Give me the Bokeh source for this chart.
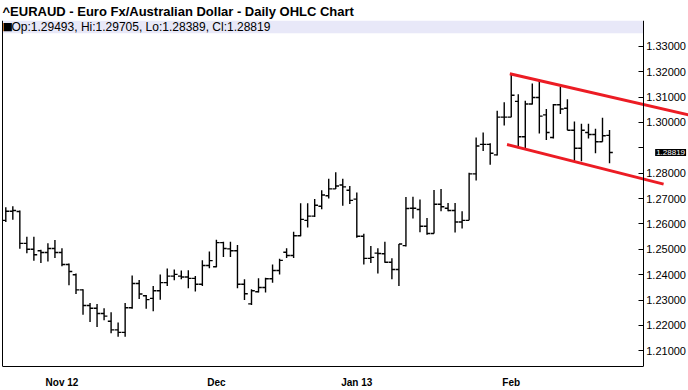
from bokeh.plotting import figure
from bokeh.models import (ColumnDataSource, FixedTicker, LinearAxis, Range1d,
                          BoxAnnotation, Label, Span, PrintfTickFormatter)
from bokeh.transform import dodge
from bokeh.embed import file_html
from bokeh.resources import INLINE

# ---- data (daily OHLC, EUR/AUD, Oct 22 2012 .. Feb 21 2013, trading days) ----
open_ = [1.26142, 1.26502, 1.26491, 1.25236, 1.25003, 1.24941, 1.24875, 1.25030, 1.24875, 1.24399,
         1.23996, 1.23403, 1.22783, 1.22679, 1.22473, 1.22163, 1.21826, 1.21725, 1.22694, 1.23655,
         1.23170, 1.23066, 1.23364, 1.23686, 1.23945, 1.23945, 1.23907, 1.23856, 1.23624, 1.24360,
         1.24313, 1.25263, 1.25018, 1.24941, 1.23624, 1.22849, 1.23325, 1.23492, 1.23841, 1.24166,
         1.24887, 1.24759, 1.25534, 1.26142, 1.26309, 1.26696, 1.27111, 1.27382, 1.27537, 1.27328,
         1.26979, 1.25514, 1.24643, 1.24848, 1.24825, 1.24488, 1.24205, 1.25146, 1.26619, 1.26568,
         1.25910, 1.25623, 1.26774, 1.26619, 1.26530, 1.26076, 1.26142, 1.27975, 1.29137, 1.29137,
         1.28723, 1.30210, 1.30210, 1.30830, 1.29436, 1.30726, 1.30985, 1.30300, 1.29408, 1.30699,
         1.30559, 1.29691, 1.28982, 1.29602, 1.29525, 1.29242, 1.29493]
high = [1.26657, 1.26696, 1.26530, 1.25495, 1.25495, 1.24980, 1.25236, 1.25367, 1.25042, 1.24437,
        1.24050, 1.23430, 1.22888, 1.22849, 1.22679, 1.22523, 1.22113, 1.22888, 1.23972, 1.23790,
        1.23198, 1.23558, 1.24011, 1.24244, 1.24205, 1.24166, 1.24178, 1.23945, 1.24565, 1.24914,
        1.25379, 1.25301, 1.25301, 1.25174, 1.23817, 1.23422, 1.23856, 1.23879, 1.24399, 1.24631,
        1.25042, 1.25689, 1.26812, 1.26812, 1.26979, 1.27328, 1.27781, 1.28041, 1.27781, 1.27498,
        1.27239, 1.25611, 1.25135, 1.25042, 1.25301, 1.24643, 1.25212, 1.27064, 1.27072, 1.26967,
        1.26231, 1.27336, 1.27374, 1.26824, 1.26824, 1.26502, 1.28014, 1.29408, 1.29602, 1.29176,
        1.30466, 1.30792, 1.31915, 1.31113, 1.30854, 1.31539, 1.31694, 1.30532, 1.30726, 1.31411,
        1.30919, 1.30040, 1.29951, 1.29951, 1.29757, 1.30183, 1.29705]
low = [1.26076, 1.26165, 1.25018, 1.24848, 1.24554, 1.24461, 1.24515, 1.24654, 1.24333, 1.23585,
       1.23236, 1.22423, 1.22136, 1.21942, 1.22202, 1.21687, 1.21555, 1.21555, 1.22655, 1.23043,
       1.22655, 1.22562, 1.23015, 1.23558, 1.23779, 1.23817, 1.23469, 1.23337, 1.23558, 1.24255,
       1.24294, 1.24693, 1.24693, 1.23461, 1.23004, 1.22802, 1.23298, 1.23298, 1.23686, 1.24011,
       1.24654, 1.24654, 1.25514, 1.25855, 1.26270, 1.26580, 1.27006, 1.27374, 1.26716, 1.26785,
       1.25456, 1.24399, 1.24461, 1.24050, 1.24468, 1.23817, 1.23558, 1.25108, 1.26212, 1.25669,
       1.25573, 1.25623, 1.26502, 1.26502, 1.25662, 1.25817, 1.26142, 1.27715, 1.28878, 1.28335,
       1.28699, 1.29885, 1.30210, 1.28982, 1.28982, 1.30706, 1.29563, 1.29304, 1.29370, 1.30338,
       1.29691, 1.28467, 1.28467, 1.29370, 1.28788, 1.29242, 1.28389]
close = [1.26502, 1.26530, 1.25236, 1.25003, 1.24786, 1.24875, 1.25030, 1.24875, 1.24399, 1.24127,
         1.23403, 1.22783, 1.22679, 1.22473, 1.22368, 1.21826, 1.21725, 1.22694, 1.23655, 1.23236,
         1.23015, 1.23364, 1.23686, 1.23945, 1.24011, 1.23907, 1.23856, 1.23624, 1.24360, 1.24554,
         1.25263, 1.25030, 1.24941, 1.23624, 1.23248, 1.23364, 1.23492, 1.23841, 1.24166, 1.24565,
         1.24759, 1.25534, 1.26181, 1.26309, 1.26735, 1.27142, 1.27382, 1.27498, 1.27460, 1.26929,
         1.25514, 1.24643, 1.24681, 1.24836, 1.24488, 1.24205, 1.25212, 1.26607, 1.26619, 1.25910,
         1.25623, 1.26774, 1.26677, 1.26530, 1.26076, 1.26142, 1.27975, 1.29071, 1.29137, 1.28788,
         1.30210, 1.30210, 1.31074, 1.29436, 1.30726, 1.30985, 1.30249, 1.29602, 1.30699, 1.30532,
         1.29691, 1.28982, 1.29691, 1.29525, 1.29242, 1.29474, 1.28819]
bar_index = list(range(len(close)))

# month tick positions (bar index of first trading day) and labels
x_ticks = [8, 30, 50, 72]
x_tick_labels = ["Nov 12", "Dec", "Jan 13", "Feb"]
y_ticks = [1.21, 1.22, 1.23, 1.24, 1.25, 1.26, 1.27, 1.28, 1.29, 1.30, 1.31, 1.32, 1.33]
hidden_y_label = 1.29          # covered by the last-price marker

# hand-drawn trend channel
upper_x = [71.8, 97.25]
upper_y = [1.3192, 1.3030]
lower_x = [71.4, 93.7]
lower_y = [1.2913, 1.2757]

title_text = "^EURAUD - Euro Fx/Australian Dollar - Daily OHLC Chart"

# layout constants
X_VIEW = (-0.755, 97.25)      # visible canvas span in bar units
X_BORDER_L = -0.47            # left frame line
X_AXIS = 90.8                 # price axis location
Y_START, Y_END = 1.20381, 1.34019
STRIP_BOTTOM = 1.33515
FONT = "Liberation Sans"

p = figure(width=688, height=390, output_backend="svg", toolbar_location=None,
           x_range=Range1d(*X_VIEW), y_range=Range1d(Y_START, Y_END),
           x_axis_location=None, y_axis_location=None,
           min_border_left=0, min_border_right=0, min_border_top=20, min_border_bottom=18,
           background_fill_color="white", border_fill_color="white")
p.grid.visible = False
p.outline_line_color = None

p.title.text = title_text
p.title.text_font = FONT
p.title.text_font_size = "13px"
p.title.text_font_style = "bold"
p.title.text_color = "black"
p.title.align = "left"
p.title.offset = 2
p.title.standoff = 3

# header strip with last bar values
strip_mid = (STRIP_BOTTOM + Y_END) / 2
p.add_layout(BoxAnnotation(left=X_BORDER_L, right=X_AXIS, bottom=STRIP_BOTTOM, top=Y_END,
                           fill_color="#e8e8f8", fill_alpha=1, line_color=None, level="underlay"))
p.add_layout(Label(x=X_BORDER_L, y=strip_mid, x_offset=0, text="\u25a0",
                   text_font="DejaVu Sans", text_font_size="11px", text_baseline="middle",
                   text_color="black"))
legend_text = "Op:%.5f, Hi:%.5f, Lo:%.5f, Cl:%.5f" % (open_[-1], high[-1], low[-1], close[-1])
p.add_layout(Label(x=X_BORDER_L, y=strip_mid, x_offset=9, text=legend_text,
                   text_font=FONT, text_font_size="12px", text_baseline="middle", text_color="black"))

# left frame line
p.add_layout(Span(location=X_BORDER_L, dimension="height", line_color="black", line_width=1))

# bottom axis
xaxis = LinearAxis(ticker=FixedTicker(ticks=x_ticks),
                   major_label_overrides=dict(zip(x_ticks, x_tick_labels)),
                   major_tick_line_color=None, minor_tick_line_color=None,
                   axis_line_color="black", major_label_standoff=4, bounds=(X_BORDER_L, X_AXIS),
                   major_label_text_font=FONT, major_label_text_font_size="10px",
                   major_label_text_font_style="bold", major_label_text_color="black")
p.add_layout(xaxis, "below")

# right price axis, drawn at a fixed x so the chart can run past it
yaxis = LinearAxis(ticker=FixedTicker(ticks=y_ticks), formatter=PrintfTickFormatter(format="%.5f"),
                   major_label_overrides={hidden_y_label: ""},
                   fixed_location=X_AXIS,
                   major_tick_in=5, major_tick_out=0, minor_tick_line_color=None,
                   axis_line_color="black", major_tick_line_color="black",
                   major_label_standoff=3, major_label_text_font=FONT,
                   major_label_text_font_size="11px", major_label_text_color="black")
p.add_layout(yaxis, "right")

# OHLC bars
src = ColumnDataSource(dict(x=bar_index, open=open_, high=high, low=low, close=close))
LW = 1.4
p.segment(x0="x", y0="low", x1="x", y1="high", source=src, line_color="black", line_width=LW)
p.segment(x0=dodge("x", -0.47), y0="open", x1="x", y1="open", source=src,
          line_color="black", line_width=LW)
p.segment(x0="x", y0="close", x1=dodge("x", 0.47), y1="close", source=src,
          line_color="black", line_width=LW)

# trend channel lines
RED = "#ec1c24"
p.line(upper_x, upper_y, line_color=RED, line_width=3)
p.line(lower_x, lower_y, line_color=RED, line_width=3)

# last price marker on axis
last_lbl = Label(x=92.5, y=close[-1], text="%.5f" % close[-1], text_font=FONT,
                 text_font_size="8px", text_color="white", text_baseline="middle",
                 background_fill_color="black", background_fill_alpha=1)
try:
    last_lbl.padding = 1
except Exception:
    pass
p.add_layout(last_lbl)

open("out.html", "w").write(file_html(p, INLINE))
